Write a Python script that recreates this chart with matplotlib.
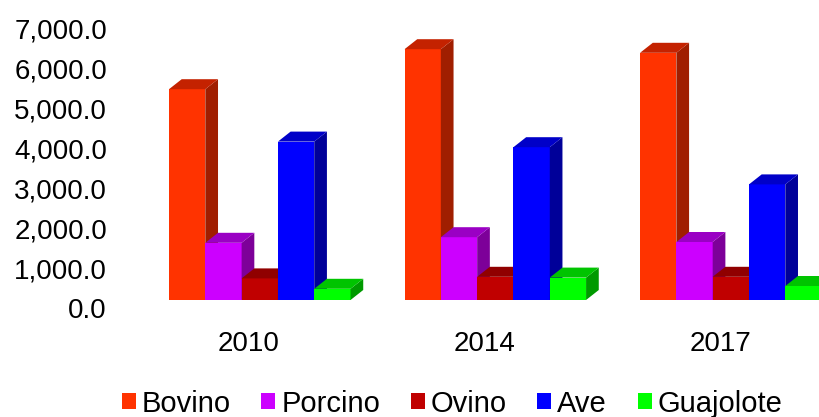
import matplotlib
matplotlib.use("Agg")
import matplotlib.pyplot as plt
import matplotlib.transforms as mtransforms
from matplotlib.patches import Polygon, Rectangle
from matplotlib.ticker import FuncFormatter

plt.rcParams['font.family'] = ['Liberation Sans', 'DejaVu Sans']

# Livestock production by species and year
years = ["2010", "2014", "2017"]
species = ["Bovino", "Porcino", "Ovino", "Ave", "Guajolote"]
bovino = [5270, 6270, 6180]
porcino = [1430, 1570, 1450]
ovino = [540, 580, 580]
ave = [3960, 3820, 2890]
guajolote = [280, 560, 350]
series = [bovino, porcino, ovino, ave, guajolote]

# front / top / side shades for each species
front_colors = ["#FF3300", "#CC00FF", "#C00000", "#0000FF", "#00FF00"]
top_colors = ["#C42200", "#9A00C4", "#900000", "#0000C8", "#00C400"]
side_colors = ["#A01E00", "#7D0099", "#780000", "#000099", "#009A00"]

W, H, DPI = 820, 417, 100
fig = plt.figure(figsize=(W / DPI, H / DPI), dpi=DPI)

ax_left, ax_right, ax_top, ax_bottom = 115, 815, 28, 308  # pixels
ax = fig.add_axes([ax_left / W, (H - ax_bottom) / H,
                   (ax_right - ax_left) / W, (ax_bottom - ax_top) / H])
xlim = (-0.569, 2.403)
ylim = (0, 7000)
ax.set_xlim(*xlim)
ax.set_ylim(*ylim)

px_per_x = (ax_right - ax_left) / (xlim[1] - xlim[0])
px_per_y = (ax_bottom - ax_top) / (ylim[1] - ylim[0])

# bars sit back from the floor edge: shift them up/right on screen
setback = mtransforms.ScaledTranslation(10.75 / DPI, 8 / DPI, fig.dpi_scale_trans)
bar_trans = ax.transData + setback

# depth of each column in data units
depth_x = 12.7 / px_per_x
depth_y = 10.0 / px_per_y

n = len(species)
group_w = 0.7707
bar_w = group_w / n

z = 2
for gi in range(len(years)):
    for si in range(n):
        h = series[si][gi]
        x0 = gi - group_w / 2 + si * bar_w
        x1 = x0 + bar_w
        front = Rectangle((x0, 0), bar_w, h, facecolor=front_colors[si],
                          edgecolor="none", transform=bar_trans, zorder=z,
                          clip_on=False)
        side = Polygon([(x1, 0), (x1, h), (x1 + depth_x, h + depth_y),
                        (x1 + depth_x, depth_y)], closed=True,
                       facecolor=side_colors[si], edgecolor="none",
                       transform=bar_trans, zorder=z + 0.1, clip_on=False)
        top = Polygon([(x0, h), (x1, h), (x1 + depth_x, h + depth_y),
                       (x0 + depth_x, h + depth_y)], closed=True,
                      facecolor=top_colors[si], edgecolor="none",
                      transform=bar_trans, zorder=z + 0.2, clip_on=False)
        ax.add_patch(front)
        ax.add_patch(side)
        ax.add_patch(top)
        z += 1

ax.set_xticks(range(len(years)))
ax.set_xticklabels(years)
ax.set_yticks(range(0, 7001, 1000))
ax.yaxis.set_major_formatter(FuncFormatter(lambda v, p: f"{v:,.1f}"))
ax.tick_params(axis="both", length=0, labelsize=20, colors="black")
ax.tick_params(axis="y", pad=5.8)
ax.tick_params(axis="x", pad=16.5)
for s in ax.spines.values():
    s.set_visible(False)
ax.patch.set_alpha(0)

handles = [Rectangle((0, 0), 1, 1, facecolor=c, edgecolor="none") for c in front_colors]
fig.legend(handles, species, loc="center", ncol=n, frameon=False,
           bbox_to_anchor=(452 / W, 1 - 403.5 / H), fontsize=21,
           handlelength=0.48, handleheight=0.48, handletextpad=0.2,
           columnspacing=1.05, borderpad=0, borderaxespad=0)

fig.savefig("out.png", dpi=DPI)
